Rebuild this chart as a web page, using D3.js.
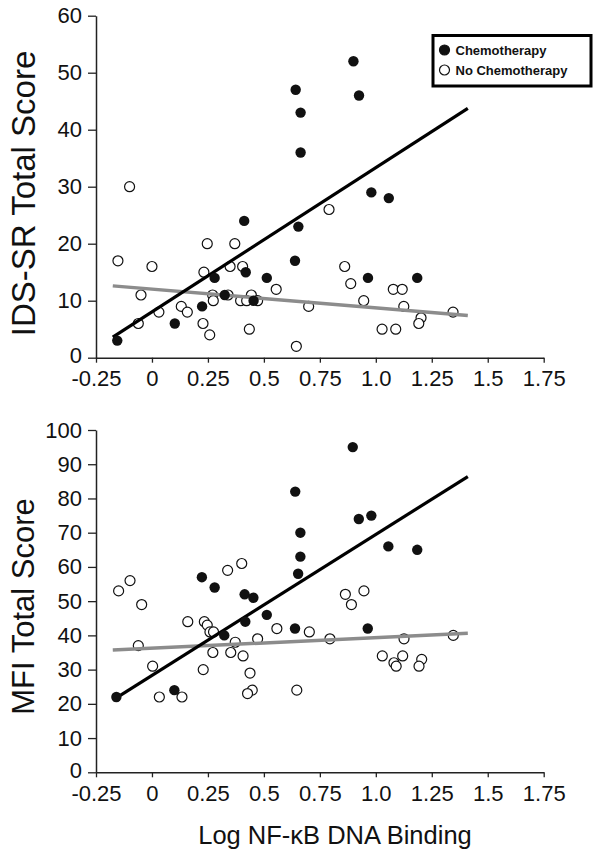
<!DOCTYPE html>
<html>
<head>
<meta charset="utf-8">
<script src="https://cdn.jsdelivr.net/npm/d3@7"></script>
<style>
  html, body { margin: 0; padding: 0; background: #fff; }
  svg { display: block; font-family: "Liberation Sans", Arial, Helvetica, sans-serif; }
</style>
</head>
<body>
<svg id="chart" width="602" height="859"></svg>
<script>
// ---------- DATA ----------
const xTickValues = [-0.25, 0, 0.25, 0.5, 0.75, 1.0, 1.25, 1.5, 1.75];
const xTickLabels = ["-0.25", "0", "0.25", "0.5", "0.75", "1.0", "1.25", "1.5", "1.75"];
const idsTicks = [0, 10, 20, 30, 40, 50, 60];
const mfiTicks = [0, 10, 20, 30, 40, 50, 60, 70, 80, 90, 100];

const seriesNames = ["Chemotherapy", "No Chemotherapy"];

// IDS-SR panel: chemotherapy group
const idsChemoX = [0.642, 0.664, 0.664, 0.412, 0.654, 0.639, 0.419, 0.280, 0.513, 0.325, 0.454, 0.224, 0.102, -0.155, 0.900, 0.925, 0.980, 1.058, 0.965, 1.185];
const idsChemoY = [47, 43, 36, 24, 23, 17, 15, 14, 14, 11, 10, 9, 6, 3, 52, 46, 29, 28, 14, 14];
// IDS-SR panel: no chemotherapy group
const idsNoChemoX = [-0.100, 0.791, 0.247, 0.370, -0.152, 0.000, 0.232, 0.349, 0.405, 0.555, -0.049, 0.271, 0.340, 0.444, 0.274, 0.396, 0.423, 0.472, 0.131, 0.158, 0.031, 0.700, -0.061, 0.228, 0.258, 0.435, 0.645, 0.861, 0.888, 1.078, 1.118, 0.946, 1.125, 1.345, 1.202, 1.192, 1.028, 1.089];
const idsNoChemoY = [30, 26, 20, 20, 17, 16, 15, 16, 16, 12, 11, 11, 11, 11, 10, 10, 10, 10, 9, 8, 8, 9, 6, 6, 4, 5, 2, 16, 13, 12, 12, 10, 9, 8, 7, 6, 5, 5];

// MFI panel: chemotherapy group
const mfiChemoX = [0.640, 0.663, 0.663, 0.653, 0.223, 0.280, 0.414, 0.453, 0.513, 0.417, 0.323, 0.639, 0.100, -0.159, 0.897, 0.924, 0.980, 1.056, 1.185, 0.964];
const mfiChemoY = [82, 70, 63, 58, 57, 54, 52, 51, 46, 44, 40, 42, 24, 22, 95, 74, 75, 66, 65, 42];
// MFI panel: no chemotherapy group
const mfiNoChemoX = [-0.149, -0.098, -0.046, 0.338, 0.401, 0.160, 0.234, 0.247, 0.259, 0.275, 0.558, 0.703, 0.795, -0.061, 0.372, 0.472, 0.272, 0.352, 0.407, 0.003, 0.229, 0.438, 0.448, 0.427, 0.647, 0.033, 0.134, 0.864, 0.947, 0.891, 1.126, 1.346, 1.029, 1.120, 1.081, 1.091, 1.205, 1.193];
const mfiNoChemoY = [53, 56, 49, 59, 61, 44, 44, 43, 41, 41, 42, 41, 39, 37, 38, 39, 35, 35, 34, 31, 30, 29, 24, 23, 24, 22, 22, 52, 53, 49, 39, 40, 34, 34, 32, 31, 33, 31];

// Fitted regression lines (end points)
const fitX = [-0.175, 1.411];
const idsChemoFit = [3.6, 43.75];
const idsNoChemoFit = [12.6, 7.4];
const mfiChemoFit = [21.1, 86.4];
const mfiNoChemoFit = [35.7, 40.6];

// ---------- DRAWING ----------
const svg = d3.select("#chart");
const FONT = '"Liberation Sans", Arial, Helvetica, sans-serif';

function zip(xs, ys) { return xs.map((x, i) => ({ x, y: ys[i] })); }

function panel(cfg) {
  const x = d3.scaleLinear().domain([-0.25, 1.75]).range([96, 543.7]);
  const y = d3.scaleLinear().domain(cfg.yDomain).range(cfg.yRange);
  const g = svg.append("g");

  // x axis
  const xAxis = d3.axisBottom(x)
    .tickValues(xTickValues)
    .tickFormat((d, i) => xTickLabels[i])
    .tickSizeInner(5).tickSizeOuter(0).tickPadding(8);
  const gx = g.append("g").attr("transform", `translate(0,${cfg.yRange[0]})`).call(xAxis);
  gx.select(".domain").attr("stroke", "#222").attr("stroke-width", 1.5);
  gx.selectAll(".tick line").attr("stroke", "#222").attr("stroke-width", 1.3);
  gx.selectAll(".tick text").attr("font-size", 22).attr("font-family", FONT).attr("fill", "#111");

  // y axis
  const yAxis = d3.axisLeft(y)
    .tickValues(cfg.yTicks)
    .tickFormat(d3.format("d"))
    .tickSizeInner(8).tickSizeOuter(0).tickPadding(6);
  const gy = g.append("g").attr("transform", `translate(96,0)`).call(yAxis);
  gy.select(".domain").attr("stroke", "#222").attr("stroke-width", 1.5);
  gy.selectAll(".tick line").attr("stroke", "#222").attr("stroke-width", 1.3);
  gy.selectAll(".tick text").attr("font-size", 22).attr("font-family", FONT).attr("fill", "#111");
  // nudge the bottom "0" label up a touch so it clears the x tick labels
  gy.selectAll(".tick").filter(d => d === 0).select("text").attr("dy", "0.22em");

  // y title
  g.append("text")
    .attr("transform", `translate(${cfg.titleX},${cfg.titleY}) rotate(-90)`)
    .attr("text-anchor", "middle")
    .attr("font-size", cfg.titleSize)
    .attr("font-family", FONT)
    .attr("fill", "#111")
    .text(cfg.title);

  // open points
  g.append("g").selectAll("circle")
    .data(zip(cfg.noX, cfg.noY))
    .join("circle")
    .attr("cx", d => x(d.x)).attr("cy", d => y(d.y)).attr("r", 5)
    .attr("fill", "#fff").attr("stroke", "#111").attr("stroke-width", 1.2);

  // fitted lines
  const line = d3.line().x(d => x(d.x)).y(d => y(d.y));
  g.append("path").datum(zip(fitX, cfg.noFit)).attr("d", line)
    .attr("fill", "none").attr("stroke", "#8c8c8c").attr("stroke-width", 3.5);
  g.append("path").datum(zip(fitX, cfg.chemoFit)).attr("d", line)
    .attr("fill", "none").attr("stroke", "#000").attr("stroke-width", 3.2);

  // filled points
  g.append("g").selectAll("circle")
    .data(zip(cfg.chemoX, cfg.chemoY))
    .join("circle")
    .attr("cx", d => x(d.x)).attr("cy", d => y(d.y)).attr("r", 5.2)
    .attr("fill", "#111");
}

panel({
  yDomain: [0, 60], yRange: [357.7, 15.7], yTicks: idsTicks,
  title: "IDS-SR Total Score", titleY: 193.5, titleX: 34.5, titleSize: 33,
  chemoX: idsChemoX, chemoY: idsChemoY, noX: idsNoChemoX, noY: idsNoChemoY,
  chemoFit: idsChemoFit, noFit: idsNoChemoFit
});

panel({
  yDomain: [0, 100], yRange: [772.3, 430], yTicks: mfiTicks,
  title: "MFI Total Score", titleY: 606.5, titleX: 33.5, titleSize: 31,
  chemoX: mfiChemoX, chemoY: mfiChemoY, noX: mfiNoChemoX, noY: mfiNoChemoY,
  chemoFit: mfiChemoFit, noFit: mfiNoChemoFit
});

// x axis title
svg.append("text")
  .attr("x", 335).attr("y", 844)
  .attr("text-anchor", "middle")
  .attr("font-size", 25.5)
  .attr("font-family", FONT)
  .attr("fill", "#111")
  .text("Log NF-κB DNA Binding");

// legend
const lg = svg.append("g");
lg.append("rect").attr("x", 433).attr("y", 35.5).attr("width", 158).attr("height", 50.5)
  .attr("fill", "#fff").attr("stroke", "#000").attr("stroke-width", 3);
seriesNames.forEach((name, i) => {
  const yy = 50 + i * 20;
  lg.append("circle").attr("cx", 444.5).attr("cy", yy).attr("r", 5)
    .attr("fill", i === 0 ? "#111" : "#fff").attr("stroke", "#111").attr("stroke-width", 1.2);
  lg.append("text").attr("x", 455.5).attr("y", yy + 4.6)
    .attr("font-size", 13).attr("font-weight", "bold").attr("font-family", FONT)
    .attr("fill", "#111").text(name);
});
</script>
</body>
</html>
